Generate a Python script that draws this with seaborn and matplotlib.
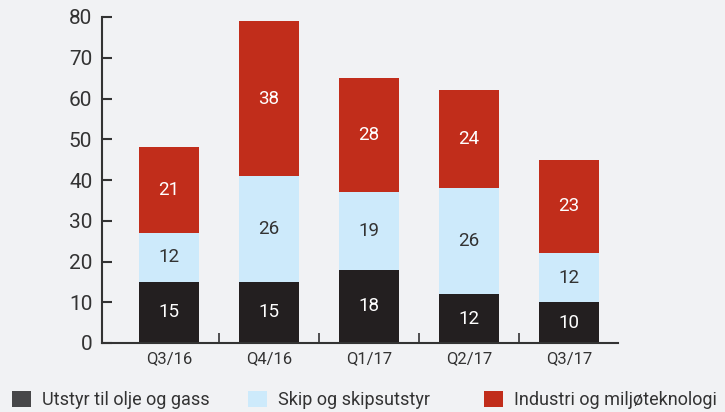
import matplotlib
matplotlib.use("Agg")
import matplotlib.pyplot as plt
import seaborn as sns
import numpy as np
import pandas as pd
from matplotlib.patches import Patch

categories = ["Q3/16", "Q4/16", "Q1/17", "Q2/17", "Q3/17"]
olje_gass = [15, 15, 18, 12, 10]
skip = [12, 26, 19, 26, 12]
industri = [21, 38, 28, 24, 23]
series_names = ["Utstyr til olje og gass", "Skip og skipsutstyr", "Industri og miljøteknologi"]
y_ticks = [0, 10, 20, 30, 40, 50, 60, 70, 80]

BG = "#f1f2f4"
C_DARK = "#231f20"
C_LIGHT = "#cdeafb"
C_RED = "#c12d1b"
C_LEG_DARK = "#474749"
TXT = "#333333"

sns.set_theme(style="white")
plt.rcParams["font.family"] = ["Roboto", "DejaVu Sans"]

fig = plt.figure(figsize=(7.25, 4.12), dpi=100, facecolor=BG)
ax = fig.add_axes([102/725, 1-343/412, (618-102)/725, (343-17)/412])
ax.set_facecolor(BG)

d = np.array(olje_gass)
l = np.array(skip)
r = np.array(industri)
df = pd.DataFrame({"cat": categories, "total": d + l + r, "mid": d + l, "low": d})

for col, color in [("total", C_RED), ("mid", C_LIGHT), ("low", C_DARK)]:
    sns.barplot(data=df, x="cat", y=col, color=color, width=0.6, saturation=1,
                linewidth=0, ax=ax)

for i in range(len(categories)):
    ax.text(i, d[i]/2, str(d[i]), ha="center", va="center", color="white", fontsize=13.5)
    ax.text(i, d[i] + l[i]/2, str(l[i]), ha="center", va="center", color=TXT, fontsize=13.5)
    ax.text(i, d[i] + l[i] + r[i]/2, str(r[i]), ha="center", va="center", color="white", fontsize=13.5)

ax.set_xlim(-0.67, 4.49)
ax.set_ylim(0, 80)
ax.set_yticks(y_ticks)
ax.set_xlabel("")
ax.set_ylabel("")
for s in ["top", "right"]:
    ax.spines[s].set_visible(False)
for s in ["left", "bottom"]:
    ax.spines[s].set_color(TXT)
    ax.spines[s].set_linewidth(1.5)

ax.tick_params(axis="y", direction="in", length=7, width=1.5, color=TXT,
               labelsize=15, labelcolor=TXT, pad=7, left=True)
ax.set_xticks(range(len(categories)))
ax.set_xticklabels(categories)
ax.tick_params(axis="x", length=0, labelsize=12, labelcolor=TXT, pad=6)
# category separator ticks
ax.set_xticks([0.5, 1.5, 2.5, 3.5], minor=True)
ax.tick_params(axis="x", which="minor", direction="in", length=7, width=1.2, color=TXT, bottom=True)

legend_specs = [(series_names[0], C_LEG_DARK, 12/725),
                (series_names[1], C_LIGHT, 248/725),
                (series_names[2], C_RED, 484/725)]
for name, color, x0 in legend_specs:
    fig.legend(handles=[Patch(facecolor=color, edgecolor="none", label=name)],
               loc="lower left", bbox_to_anchor=(x0, 3/412), frameon=False,
               fontsize=13, labelcolor=TXT, handlelength=1.05, handleheight=1.0,
               handletextpad=0.6, borderpad=0, borderaxespad=0)

fig.savefig("out.png", dpi=100, facecolor=BG)
